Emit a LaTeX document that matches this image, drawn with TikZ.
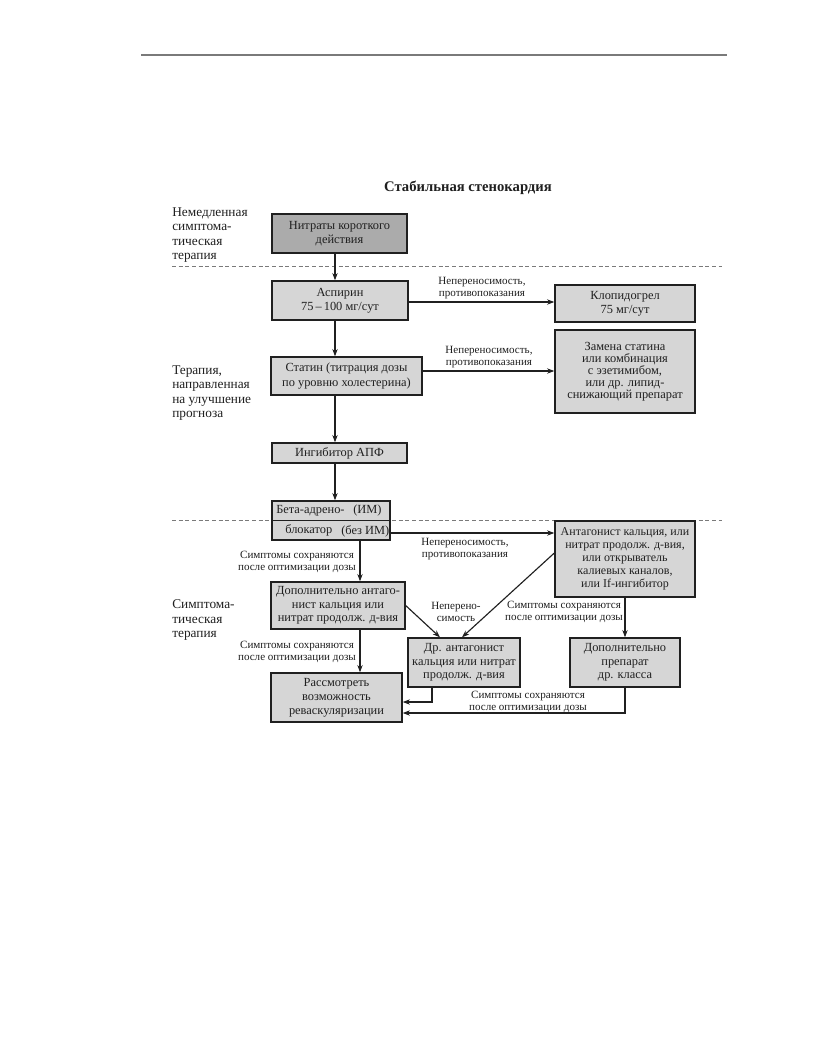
\documentclass[tikz,border=0pt]{standalone}
\usepackage{fontspec}
\setmainfont{Liberation Serif}
\usetikzlibrary{arrows.meta}
\definecolor{ink}{HTML}{202020}
\definecolor{boxfill}{HTML}{D6D6D6}
\definecolor{darkfill}{HTML}{ABABAB}
\definecolor{rulegray}{HTML}{7A7A7A}
\begin{document}
\begin{tikzpicture}[x=0.75pt,y=-0.75pt,
  box/.style={draw=ink, line width=1pt, fill=boxfill, inner sep=0pt, align=center,
              font=\fontsize{9.3}{10.2}\selectfont, text=ink},
  darkbox/.style={box, fill=darkfill},
  arr/.style={draw=ink, line width=0.85pt, -{Stealth[length=5.5pt,width=4pt]}},
  lbl/.style={font=\fontsize{8.3}{9}\selectfont, align=center, text=ink, inner sep=0pt},
  side/.style={font=\fontsize{10}{10.9}\selectfont, align=left, text=ink, inner sep=0pt, anchor=west},
  btxt/.style={font=\fontsize{9.3}{10}\selectfont, text=ink, inner sep=0pt, anchor=west},
  sep/.style={draw=rulegray, line width=0.7pt, dash pattern=on 3pt off 2pt},
]
\path[use as bounding box, fill=white] (0,0) rectangle (816,1056);

% top rule
\coordinate (r1) at (141,55);
\coordinate (r2) at (727,55);
\draw[rulegray, line width=0.8pt] (r1) -- (r2);

% title
\node[font=\bfseries\fontsize{11}{13}\selectfont, text=ink] (title) at (468,188) {Стабильная стенокардия};

% side labels
\node[side] (s1) at (172,235) {Немедленная\\симптома-\\тическая\\терапия};
\node[side] (s2) at (172,393) {Терапия,\\направленная\\на улучшение\\прогноза};
\node[side] (s3) at (172,620) {Симптома-\\тическая\\терапия};

% dashed separators
\coordinate (d1a) at (172,266);
\coordinate (d1b) at (722,266);
\coordinate (d2a) at (172,520);
\coordinate (d2b) at (722,520);
\draw[sep] (d1a) -- (d1b);
\draw[sep] (d2a) -- (d2b);

% boxes
\node[darkbox, minimum width=101.25pt, minimum height=29.25pt, font=\fontsize{9.3}{10.8}\selectfont] (nitr) at (339.5,233.5) {Нитраты короткого\\действия};
\node[box, minimum width=102pt, minimum height=29.25pt, font=\fontsize{9.3}{10.8}\selectfont] (asp) at (340,300.5) {Аспирин\\75\,–\,100 мг/сут};
\node[box, minimum width=113.25pt, minimum height=28.5pt, font=\fontsize{9.3}{10.8}\selectfont] (stat) at (346.5,376) {Статин (титрация дозы\\по уровню холестерина)};
\node[box, minimum width=101.25pt, minimum height=15pt] (ace) at (339.5,453) {Ингибитор АПФ};
\node[box, minimum width=88.5pt, minimum height=29.25pt] (beta) at (331,520.5) {};
\node[box, minimum width=105pt, minimum height=27.75pt, font=\fontsize{9.3}{10.5}\selectfont] (clop) at (625,303.5) {Клопидогрел\\75 мг/сут};
\node[box, minimum width=105pt, minimum height=62.25pt, font=\fontsize{9.3}{9.1}\selectfont] (zam) at (625,371.5) {Замена статина\\или комбинация\\с эзетимибом,\\или др. липид-\\снижающий препарат};
\node[box, minimum width=105pt, minimum height=57pt, font=\fontsize{9}{9.7}\selectfont] (ant) at (625,559) {Антагонист кальция, или\\нитрат продолж. д-вия,\\или открыватель\\калиевых каналов,\\или If-ингибитор};
\node[box, minimum width=100.5pt, minimum height=35.25pt] (dop) at (338,605.5) {Дополнительно антаго-\\нист кальция или\\нитрат продолж. д-вия};
\node[box, minimum width=98.25pt, minimum height=36.75pt, font=\fontsize{9.3}{10.5}\selectfont] (rev) at (336.5,697.5) {Рассмотреть\\возможность\\реваскуляризации};
\node[box, minimum width=84pt, minimum height=36.75pt] (dr) at (464,662.5) {Др. антагонист\\кальция или нитрат\\продолж. д-вия};
\node[box, minimum width=82.5pt, minimum height=36.75pt] (dopp) at (625,662.5) {Дополнительно\\препарат\\др. класса};

% beta-blocker box contents
\draw[ink, line width=0.7pt] (beta.west |- d2a) -- (beta.east |- d2a);
\node[btxt] (b1) at (276,511) {Бета-адрено-};
\node[btxt] (b2) at (353,511) {(ИМ)};
\node[btxt] (b3) at (285,530) {блокатор};
\node[btxt] (b4) at (341,531) {(без ИМ)};

% helper coordinates
\coordinate (cx) at (335,0);
\coordinate (cx2) at (360,0);
\coordinate (ya) at (0,302);
\coordinate (yb) at (0,371);
\coordinate (yc) at (0,533);
\coordinate (xd1) at (440,0);
\coordinate (ya3) at (0,553);
\coordinate (xd2) at (462,0);
\coordinate (xd3) at (432,0);
\coordinate (ya4) at (0,702);
\coordinate (ya5) at (0,713);

% main chain
\draw[arr] (nitr.south -| cx) -- (asp.north -| cx);
\draw[arr] (asp.south -| cx) -- (stat.north -| cx);
\draw[arr] (stat.south -| cx) -- (ace.north -| cx);
\draw[arr] (ace.south -| cx) -- (beta.north -| cx);

% side arrows
\draw[arr] (asp.east |- ya) -- (clop.west |- ya);
\draw[arr] (stat.east |- yb) -- (zam.west |- yb);
\draw[arr] (beta.east |- yc) -- (ant.west |- yc);
\draw[arr] (beta.south -| cx2) -- (dop.north -| cx2);
\draw[arr] (dop.south -| cx2) -- (rev.north -| cx2);
\draw[arr] (dop.east) -- (dr.north -| xd1);
\draw[arr] (ant.west |- ya3) -- (dr.north -| xd2);
\draw[arr] (ant.south) -- (dopp.north);
\draw[arr] (dr.south -| xd3) |- (rev.east |- ya4);
\draw[arr] (dopp.south) |- (rev.east |- ya5);

% labels
\node[lbl] (l1) at (482,288) {Непереносимость,\\противопоказания};
\node[lbl] (l2) at (489,357) {Непереносимость,\\противопоказания};
\node[lbl] (l3) at (465,549) {Непереносимость,\\противопоказания};
\node[lbl] (l4) at (297,562) {Симптомы сохраняются\\после оптимизации дозы};
\node[lbl] (l5) at (297,652) {Симптомы сохраняются\\после оптимизации дозы};
\node[lbl] (l6) at (456,612) {Неперено-\\симость};
\node[lbl] (l7) at (564,612) {Симптомы сохраняются\\после оптимизации дозы};
\node[lbl] (l8) at (528,702) {Симптомы сохраняются\\после оптимизации дозы};
\end{tikzpicture}
\end{document}
